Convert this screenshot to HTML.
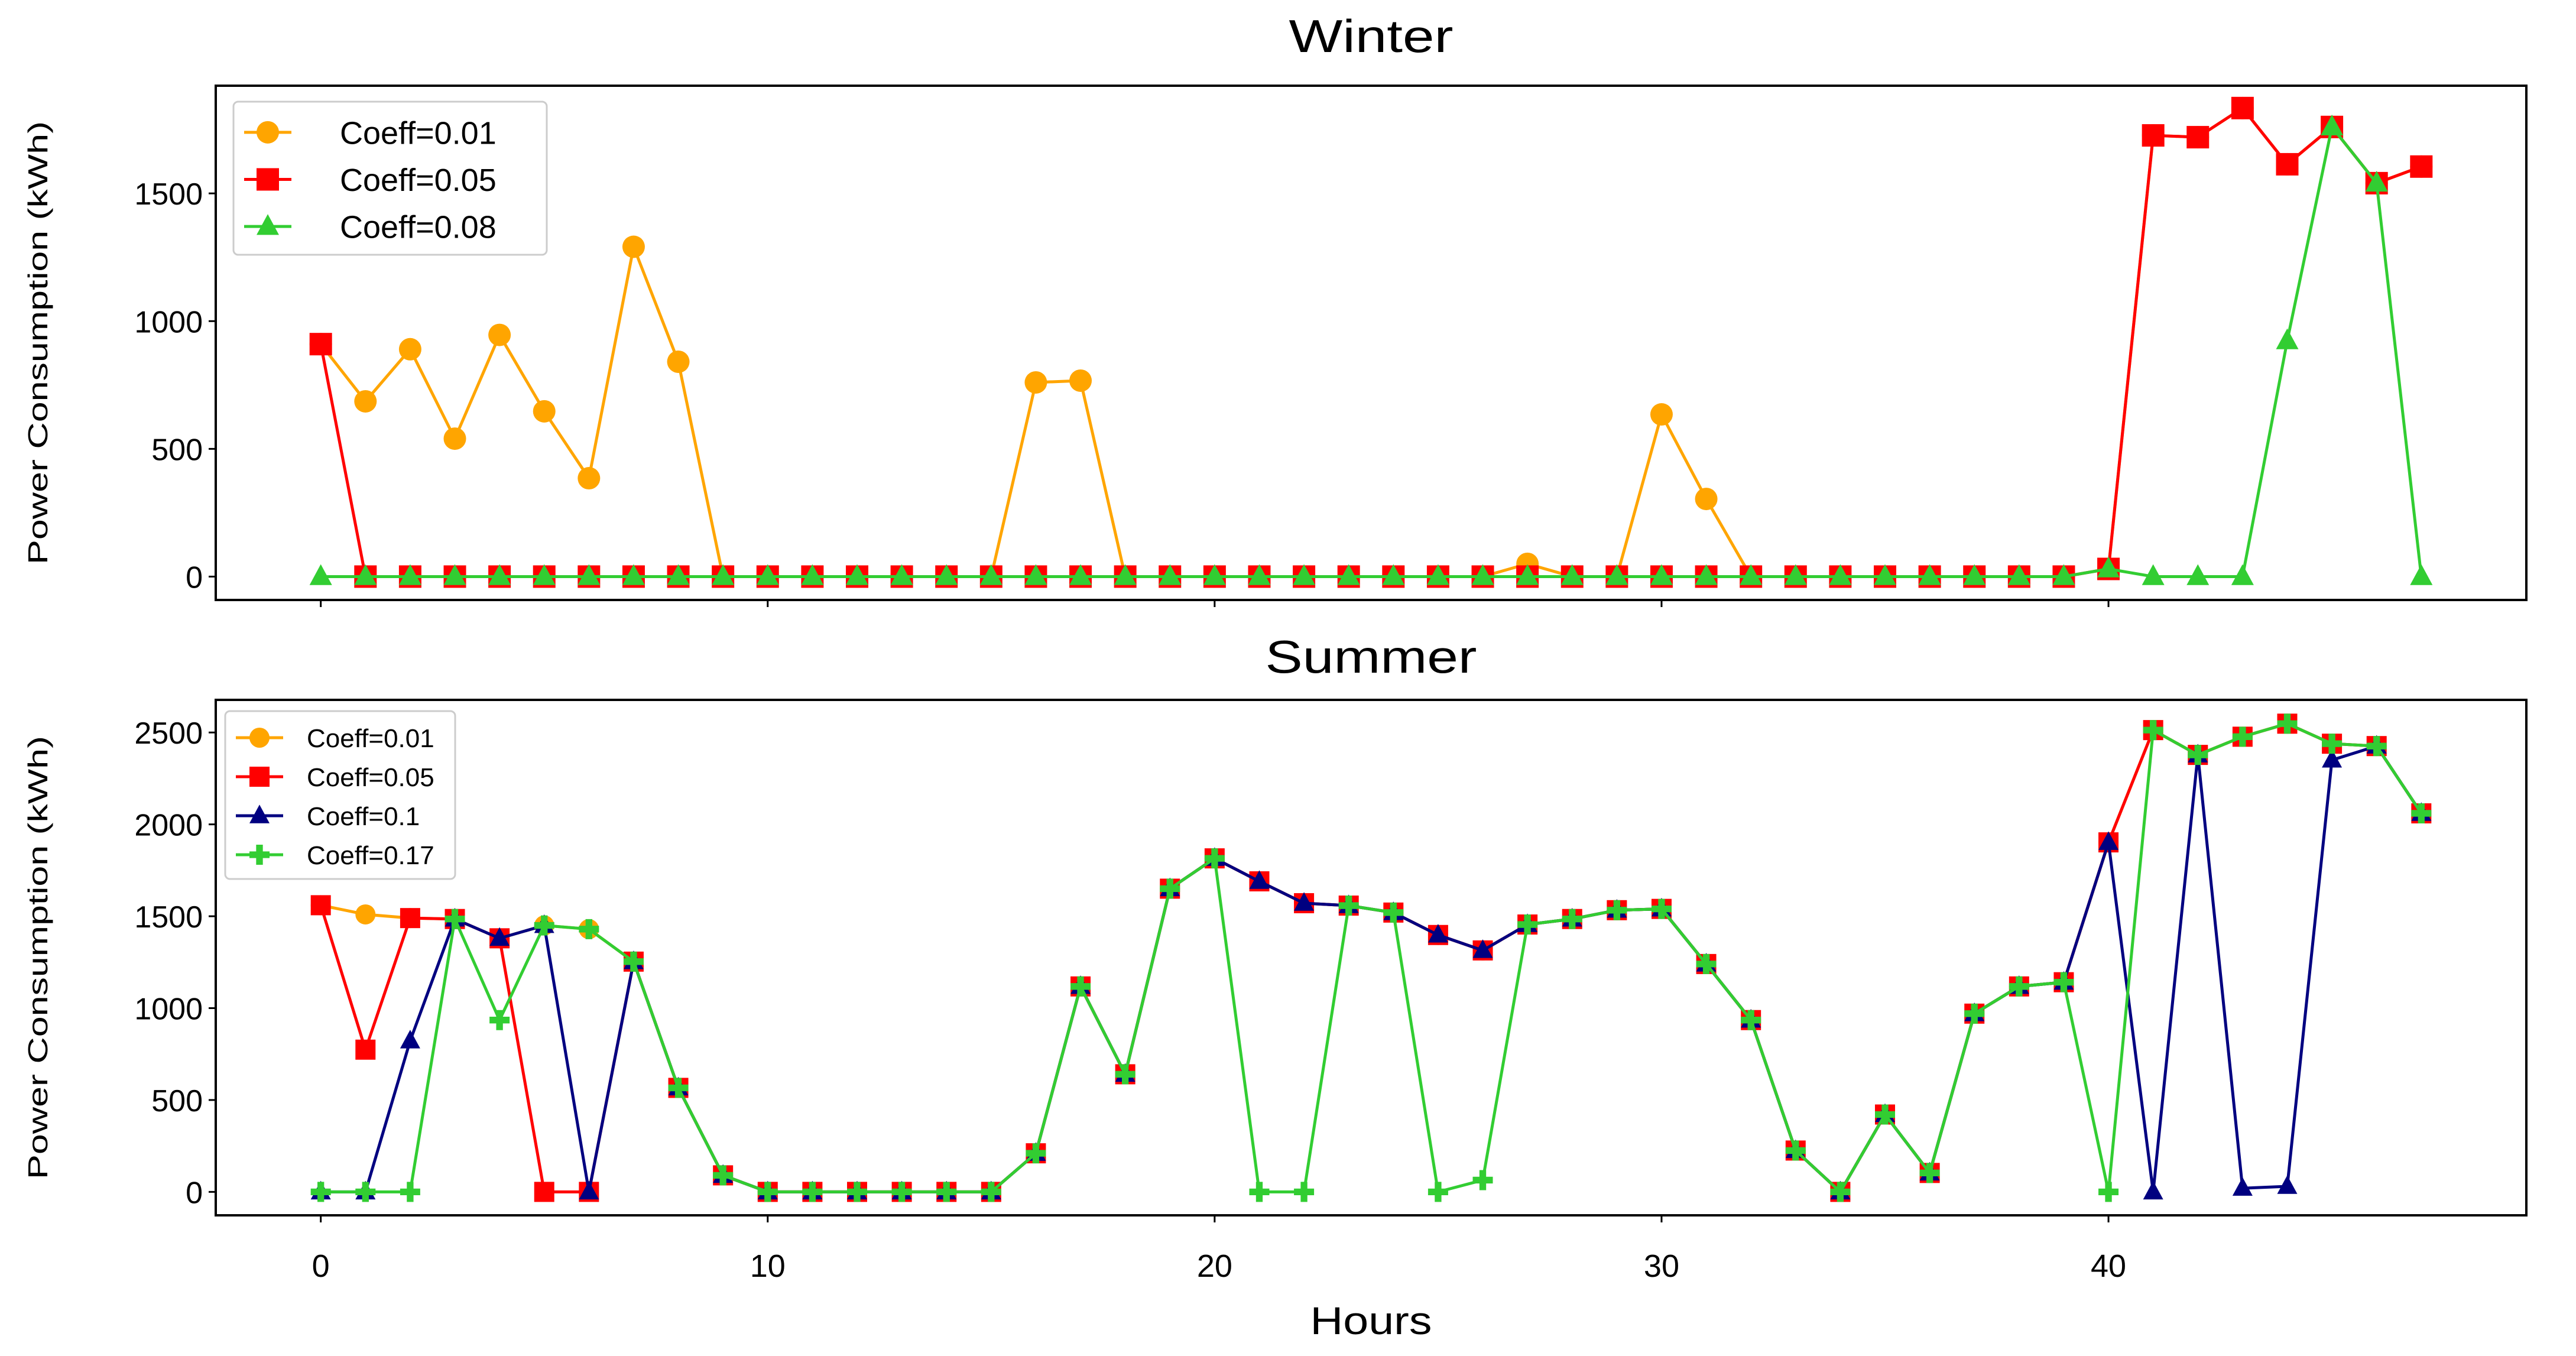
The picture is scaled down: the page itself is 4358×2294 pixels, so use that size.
<!DOCTYPE html>
<html><head><meta charset="utf-8"><style>
html,body{margin:0;padding:0;background:#fff}
svg{display:block;font-family:"Liberation Sans","DejaVu Sans",sans-serif}
</style></head><body>
<svg id="chart" width="4358" height="2294" viewBox="0 0 4358 2294" xmlns="http://www.w3.org/2000/svg">
<rect width="4358" height="2294" fill="#fff"/>
</svg>
<script>
const hours = Array.from({length:48},(_, i)=>i);
const winterTicksY = [0,500,1000,1500];
const summerTicksY = [0,500,1000,1500,2000,2500];
const xTicks = [0,10,20,30,40];
const winterC001 = [910,686,890,540,946,647,385,1291,841,0,0,0,0,0,0,0,760,767,0,0,0,0,0,0,0,0,0,50,0,0,635,304,0,0,0,0,0,0,0,0,30,1727,1720,1834,1614,1760,1540,1605];
const winterC005 = [910,0,0,0,0,0,0,0,0,0,0,0,0,0,0,0,0,0,0,0,0,0,0,0,0,0,0,0,0,0,0,0,0,0,0,0,0,0,0,0,30,1727,1720,1834,1614,1760,1540,1605];
const winterC008 = [0,0,0,0,0,0,0,0,0,0,0,0,0,0,0,0,0,0,0,0,0,0,0,0,0,0,0,0,0,0,0,0,0,0,0,0,0,0,0,0,30,0,0,0,923,1760,1540,0];
const summerC001 = [1560,1510,1490,1485,1380,1450,1430,1253,566,90,0,0,0,0,0,0,210,1118,640,1650,1815,1690,1571,1558,1520,1398,1314,1455,1485,1533,1540,1240,935,225,0,421,103,970,1118,1141,1902,2513,2378,2477,2548,2439,2426,2060];
const summerC005 = [1560,774,1490,1485,1380,0,0,1253,566,90,0,0,0,0,0,0,210,1118,640,1650,1815,1690,1571,1558,1520,1398,1314,1455,1485,1533,1540,1240,935,225,0,421,103,970,1118,1141,1902,2513,2378,2477,2548,2439,2426,2060];
const summerC01 = [0,0,822,1485,1380,1450,0,1253,566,90,0,0,0,0,0,0,210,1118,640,1650,1815,1690,1571,1558,1520,1398,1314,1455,1485,1533,1540,1240,935,225,0,421,103,970,1118,1141,1902,0,2378,20,30,2350,2426,2060];
const summerC017 = [0,0,0,1485,935,1450,1430,1253,566,90,0,0,0,0,0,0,210,1118,640,1650,1815,0,0,1558,1520,0,64,1455,1485,1533,1540,1240,935,225,0,421,103,970,1118,1141,0,2513,2378,2477,2548,2439,2426,2060];

const NS='http://www.w3.org/2000/svg';
const svg=document.getElementById('chart');
function mk(tag,attrs,parent){const e=document.createElementNS(NS,tag);for(const k in attrs)e.setAttribute(k,attrs[k]);(parent||svg).appendChild(e);return e;}
const L=365,R=4274,XMIN=-2.35,XMAX=49.35;
const xs=v=>L+(v-XMIN)/(XMAX-XMIN)*(R-L);

function marker(g,type,x,y,color,s){
  let e;
  if(type==='o'){e=mk('circle',{cx:x,cy:y,r:s/2,fill:color},g);}
  else if(type==='s'){e=mk('rect',{x:x-s/2,y:y-s/2,width:s,height:s,fill:color},g);}
  else if(type==='^'){const h=s/2;e=mk('polygon',{points:`${x},${y-h*1.1} ${x+h},${y+h*0.75} ${x-h},${y+h*0.75}`,fill:color},g);}
  else {const a=s/2,b=s/6;e=mk('polygon',{points:`${x-b},${y-a} ${x+b},${y-a} ${x+b},${y-b} ${x+a},${y-b} ${x+a},${y+b} ${x+b},${y+b} ${x+b},${y+a} ${x-b},${y+a} ${x-b},${y+b} ${x-a},${y+b} ${x-a},${y-b} ${x-b},${y-b}`,fill:color},g);}
  
  
}

function panel(name,top,bottom,ymin,ymax,ticks,series,title,titleY,titleW,showXLabels,legendBox,legendFont,textOff,ms){
  const ys=v=>bottom-(v-ymin)/(ymax-ymin)*(bottom-top);
  const g=mk('g',{});
  
  
  const t=mk('text',{x:(L+R)/2-titleW/2,y:titleY,'font-size':78,fill:'#000',textLength:titleW,lengthAdjust:'spacingAndGlyphs'},g);
  t.textContent=title;
  
  
  ticks.forEach(v=>{
    const y=ys(v);
    const tk=mk('line',{x1:L-12,x2:L,y1:y,y2:y,stroke:'#000','stroke-width':3},g);
    
    
    const lb=mk('text',{x:L-22,y:y+19,'text-anchor':'end','font-size':52,fill:'#000'},g);
    lb.textContent=v;
    
    
  });
  xTicks.forEach(v=>{
    const x=xs(v);
    const tk=mk('line',{x1:x,x2:x,y1:bottom,y2:bottom+12,stroke:'#000','stroke-width':3},g);
    
    
    if(showXLabels){
      const lb=mk('text',{x:x,y:bottom+104,'text-anchor':'middle','font-size':54,fill:'#000'},g);
      lb.textContent=v;
      
      
    }
  });
  const yl=mk('text',{x:-375,y:0,'font-size':46,fill:'#000',textLength:750,lengthAdjust:'spacingAndGlyphs',transform:`translate(80,${(top+bottom)/2}) rotate(-90)`},g);
  yl.textContent='Power Consumption (kWh)';
  
  
  series.forEach(s=>{
    const sg=mk('g',{},g);
    
    
    const pts=s.data.map((v,i)=>xs(hours[i])+','+ys(v)).join(' ');
    const pl=mk('polyline',{points:pts,fill:'none',stroke:s.color,'stroke-width':5,'stroke-linejoin':'round'},sg);
    
    
    s.data.forEach((v,i)=>marker(sg,s.m,xs(hours[i]),ys(v),s.color,ms));
  });
  const fr=mk('rect',{x:L,y:top,width:R-L,height:bottom-top,fill:'none',stroke:'#000','stroke-width':4},g);
  
  
  const [lx,ly,lw,lh]=legendBox;
  const lg=mk('g',{},g);
  
  
  mk('rect',{x:lx,y:ly,width:lw,height:lh,rx:8,fill:'#fff','fill-opacity':0.85,stroke:'#ccc','stroke-width':3},lg);
  const step=(lh-20)/series.length;
  series.forEach((s,i)=>{
    const cy=ly+12+step*(i+0.5);
    const le=mk('g',{},lg);
    
    
    mk('line',{x1:lx+18,x2:lx+98,y1:cy,y2:cy,stroke:s.color,'stroke-width':5},le);
    marker(le,s.m,lx+58,cy,s.color,ms);
    const tx=mk('text',{x:lx+textOff,y:cy+legendFont*0.36,'font-size':legendFont,fill:'#000'},le);
    tx.textContent=s.label;
  });
}

panel('winter',145,1015,-91.5,1921.5,winterTicksY,[
  {label:'Coeff=0.01',data:winterC001,color:'#ffa500',m:'o'},
  {label:'Coeff=0.05',data:winterC005,color:'#ff0000',m:'s'},
  {label:'Coeff=0.08',data:winterC008,color:'#32cd32',m:'^'}
],'Winter',88,278,false,[395,172,530,259],54,180,38);

panel('summer',1184,2056,-127.5,2677.5,summerTicksY,[
  {label:'Coeff=0.01',data:summerC001,color:'#ffa500',m:'o'},
  {label:'Coeff=0.05',data:summerC005,color:'#ff0000',m:'s'},
  {label:'Coeff=0.1',data:summerC01,color:'#000080',m:'^'},
  {label:'Coeff=0.17',data:summerC017,color:'#32cd32',m:'P'}
],'Summer',1138,358,true,[381,1203,389,284],44,138,34);

const hx=mk('text',{x:(L+R)/2-103,y:2257,'font-size':66,fill:'#000',textLength:206,lengthAdjust:'spacingAndGlyphs'});
hx.textContent='Hours';


</script>
</body></html>
